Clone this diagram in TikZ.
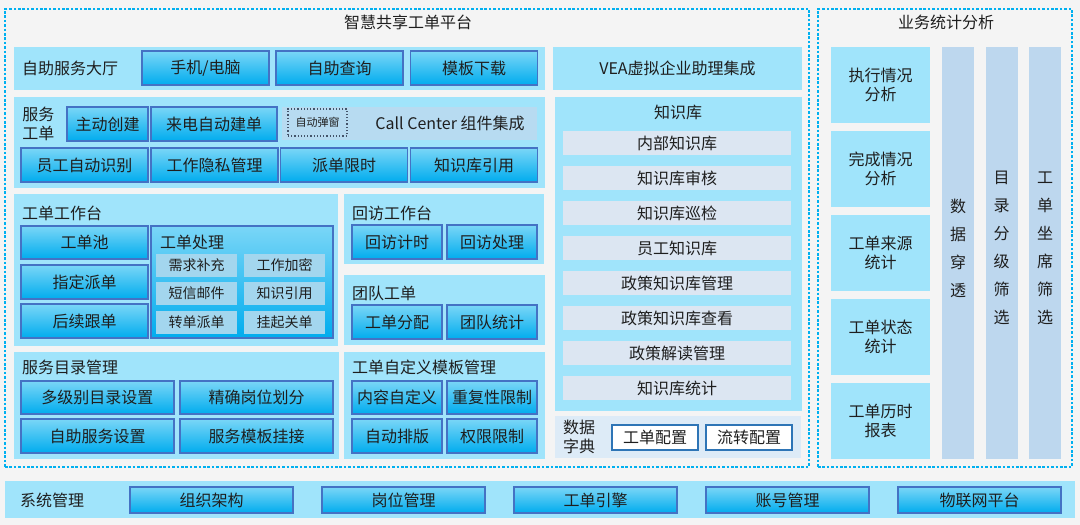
\documentclass[tikz,border=0pt]{standalone}
\usepackage{fontspec}
\setmainfont{Noto Sans CJK SC}
\usepackage{xcolor}
\definecolor{bgfill}{HTML}{F4F4F4}
\definecolor{dotblue}{HTML}{00B0F0}
\definecolor{panelfill}{HTML}{A0E4FB}
\definecolor{btntop}{HTML}{7AD6F7}
\definecolor{btnbot}{HTML}{00ACEE}
\definecolor{btnedge}{HTML}{4472C4}
\definecolor{kbfill}{HTML}{DCE6F2}
\definecolor{subfill}{HTML}{A3D6EE}
\definecolor{ccfill}{HTML}{B7DBF1}
\definecolor{barfill}{HTML}{BDD7EE}
\definecolor{dictfill}{HTML}{DDEBF7}
\definecolor{dictedge}{HTML}{2E75B6}
\definecolor{popedge}{HTML}{44546A}
\definecolor{ink}{HTML}{1E1E1E}

\begin{document}
\begin{tikzpicture}[
    x=1pt, y=-1pt,
    wd/.style={minimum width=#1pt},
    ht/.style={minimum height=#1pt},
    txt/.style={font=\fontsize{16}{19}\selectfont, text=ink},
    outline/.style={draw=dotblue, line width=2.5pt, dash pattern=on 2.6pt off 1.8pt, inner sep=0pt},
    panel/.style={fill=panelfill, inner sep=0pt},
    caption/.style={txt, anchor=west, inner sep=0pt},
    btn/.style={txt, draw=btnedge, line width=1.5pt, top color=btntop, bottom color=btnbot, inner sep=0pt},
    subitem/.style={fill=subfill, inner sep=0pt, wd=81, ht=23, font=\fontsize{14}{17}\selectfont, text=ink},
    kbitem/.style={txt, fill=kbfill, inner sep=0pt, wd=228, ht=24},
    cell/.style={txt, panel, align=center, wd=99, ht=76},
    bar/.style={fill=barfill, inner sep=0pt, wd=32, ht=412},
    dictbtn/.style={txt, draw=dictedge, line width=1.5pt, fill=white, inner sep=0pt, wd=86, ht=25},
]
    % Background
    \fill[bgfill] (0,0) rectangle (1080,525);

    % Frames
    \node[outline, wd=804, ht=458] (platform) at (407,238) {};
    \node[txt] (platformT) at (408,22) {智慧共享工单平台};
    \node[outline, wd=254, ht=458] (stats) at (945,238) {};
    \node[txt] (statsT) at (946,22) {业务统计分析};

    % Self-service hall
    \node[panel, wd=531, ht=43] (hall) at (279.5,68.5) {};
    \node[caption] (hallT) at (22,68) {自助服务大厅};
    \foreach \x/\t [count=\i] in {205.5/{手机/电脑}, 339.5/自助查询, 474/模板下载}
        \node[btn, wd=127, ht=34] (hall-\i) at (\x,68) {\t};
    \node[txt, panel, wd=249, ht=43] (vea) at (677.5,68.5) {VEA虚拟企业助理集成};

    % Service orders
    \node[panel, wd=531, ht=91] (order) at (279.5,142.5) {};
    \node[caption, anchor=center, align=center] (orderT) at (38.5,124) {服务\\工单};
    \node[btn, wd=81, ht=34] (order-1) at (107.5,124) {主动创建};
    \node[btn, wd=126, ht=34] (order-2) at (214,124) {来电自动建单};
    \node[fill=ccfill, inner sep=0pt, wd=255, ht=33] (cc) at (409.5,123.5) {};
    \node[draw=popedge, dotted, line width=1.2pt, inner sep=0pt, wd=59, ht=27,
          font=\fontsize{11}{13}\selectfont, text=ink] (popup) at (317.5,122.5) {自动弹窗};
    \node[txt] (ccT) at (450,123) {Call Center 组件集成};
    \foreach \x/\t [count=\i from 3] in {84.5/员工自动识别, 214.5/工作隐私管理, 344/派单限时, 474/知识库引用}
        \node[btn, wd=127, ht=34] (order-\i) at (\x,165) {\t};

    % Work order desk
    \node[panel, wd=324, ht=152] (desk) at (176,270) {};
    \node[caption] (deskT) at (22,213) {工单工作台};
    \node[btn, wd=127, ht=33] (pool) at (84.5,242.5) {工单池};
    \node[btn, wd=127, ht=34] (assign) at (84.5,282) {指定派单};
    \node[btn, wd=127, ht=34] (follow) at (84.5,321) {后续跟单};
    \node[btn, wd=182, ht=112] (handle) at (242,282) {};
    \node[caption] (handleT) at (160,242) {工单处理};
    \node[subitem] (sub-1) at (196.5,265.5) {需求补充};
    \node[subitem] (sub-2) at (284.5,265.5) {工作加密};
    \node[subitem] (sub-3) at (196.5,293.5) {短信邮件};
    \node[subitem] (sub-4) at (284.5,293.5) {知识引用};
    \node[subitem] (sub-5) at (196.5,322) {转单派单};
    \node[subitem] (sub-6) at (284.5,322) {挂起关单};

    % Return visit desk
    \node[panel, wd=200, ht=70] (visit) at (444,229) {};
    \node[caption] (visitT) at (352,213) {回访工作台};
    \node[btn, wd=90, ht=34] (visit-1) at (397,242) {回访计时};
    \node[btn, wd=90, ht=34] (visit-2) at (492,242) {回访处理};

    % Team orders
    \node[panel, wd=201, ht=70] (team) at (444.5,310) {};
    \node[caption] (teamT) at (352,293) {团队工单};
    \node[btn, wd=90, ht=34] (team-1) at (397,322) {工单分配};
    \node[btn, wd=90, ht=34] (team-2) at (492,322) {团队统计};

    % Service catalogue
    \node[panel, wd=325, ht=107] (catalog) at (176.5,405.5) {};
    \node[caption] (catalogT) at (22,367) {服务目录管理};
    \node[btn, wd=153, ht=33] (catalog-1) at (97.5,397.5) {多级别目录设置};
    \node[btn, wd=153, ht=33] (catalog-2) at (256.5,397.5) {精确岗位划分};
    \node[btn, wd=153, ht=34] (catalog-3) at (97.5,436) {自助服务设置};
    \node[btn, wd=153, ht=34] (catalog-4) at (256.5,436) {服务模板挂接};

    % Template management
    \node[panel, wd=201, ht=107] (tpl) at (444.5,405.5) {};
    \node[caption] (tplT) at (352,367) {工单自定义模板管理};
    \node[btn, wd=90, ht=33] (tpl-1) at (397,397.5) {内容自定义};
    \node[btn, wd=90, ht=33] (tpl-2) at (492,397.5) {重复性限制};
    \node[btn, wd=90, ht=34] (tpl-3) at (397,436) {自动排版};
    \node[btn, wd=90, ht=34] (tpl-4) at (492,436) {权限限制};

    % Knowledge base
    \node[panel, wd=247, ht=314] (kb) at (678.5,254) {};
    \node[txt] (kbT) at (678,112) {知识库};
    \foreach \t [count=\i] in {内部知识库, 知识库审核, 知识库巡检, 员工知识库,
                               政策知识库管理, 政策知识库查看, 政策解读管理, 知识库统计}
        \node[kbitem] (kb-\i) at (677,108+35*\i) {\t};

    % Data dictionary
    \node[fill=dictfill, inner sep=0pt, wd=246, ht=42] (dict) at (678,437) {};
    \node[txt, align=center] (dictT) at (579,437) {数据\\字典};
    \node[dictbtn] (dict-1) at (655,437.5) {工单配置};
    \node[dictbtn] (dict-2) at (749,437.5) {流转配置};

    % Statistics
    \foreach \t [count=\i] in {执行情况\\分析, 完成情况\\分析, 工单来源\\统计, 工单状态\\统计, 工单历时\\报表}
        \node[cell] (stat-\i) at (880.5,1+84*\i) {\t};
    \foreach \x/\t [count=\i] in {958/数\\据\\穿\\透, 1001.5/目\\录\\分\\级\\筛\\选, 1045/工\\单\\坐\\席\\筛\\选}{
        \node[bar] (bar-\i) at (\x,253) {};
        \node[font=\fontsize{16}{28}\selectfont, text=ink, align=center] (barT-\i) at (\x,248) {\t};
    }

    % System management
    \node[panel, wd=1070, ht=37] (sys) at (540,499.5) {};
    \node[caption] (sysT) at (20,500) {系统管理};
    \foreach \t [count=\i] in {组织架构, 岗位管理, 工单引擎, 账号管理, 物联网平台}
        \node[btn, wd=163, ht=26] (sys-\i) at (19.5+192*\i,500) {\t};
\end{tikzpicture}
\end{document}
